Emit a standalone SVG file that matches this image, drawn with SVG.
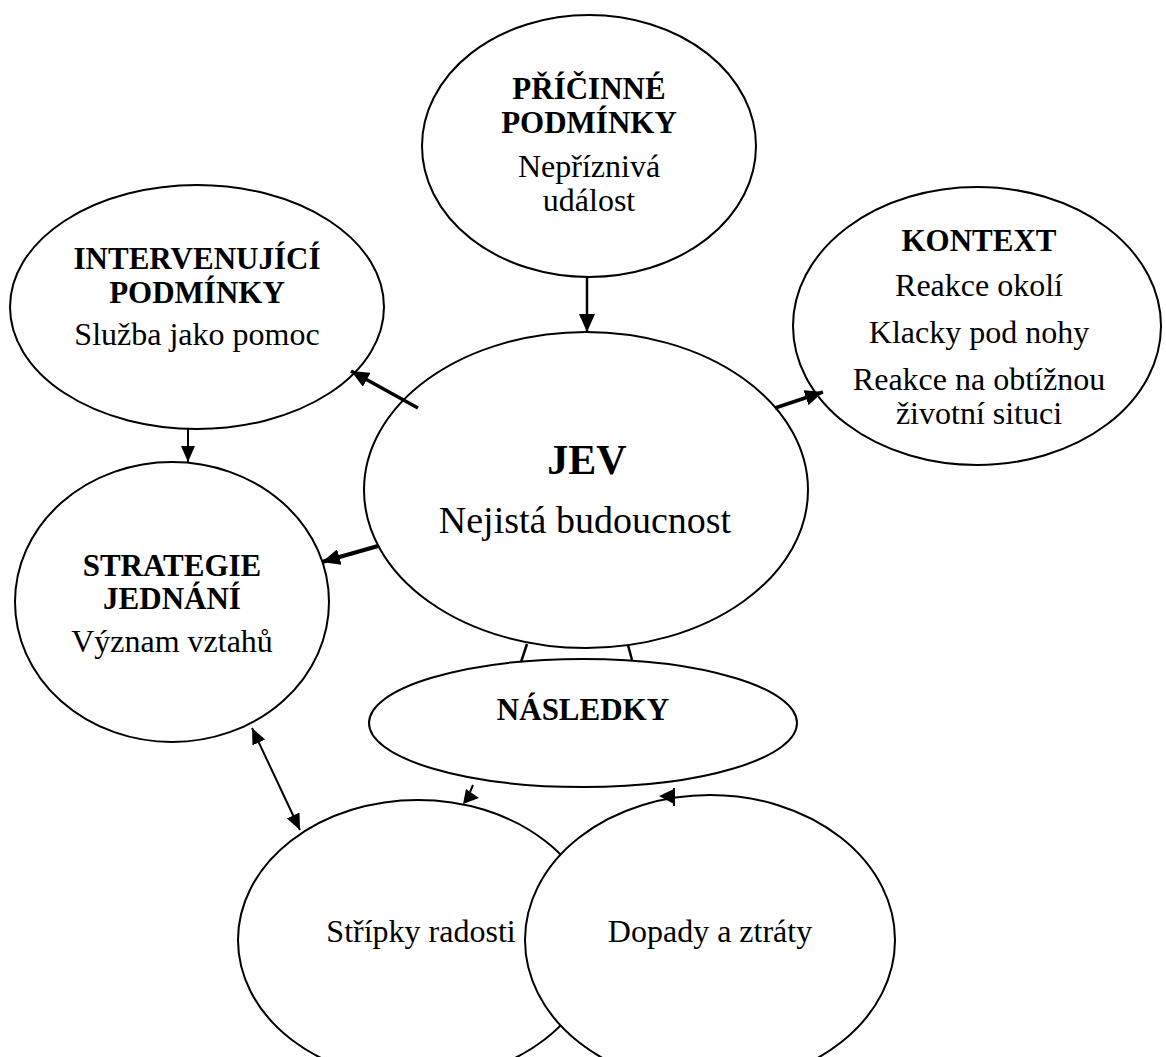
<svg xmlns="http://www.w3.org/2000/svg" width="1166" height="1057" viewBox="0 0 1166 1057">
<style>
.n{fill:#fff;stroke:#000;stroke-width:2}
.t{font-family:"Liberation Serif","Times New Roman",serif;font-size:32px;fill:#000;text-anchor:middle}
.b{font-weight:bold;font-size:31px}
.c{stroke:#000;fill:none}
</style>
<defs>
<marker id="ah" markerUnits="userSpaceOnUse" markerWidth="20" markerHeight="16" refX="18" refY="8" orient="auto">
<path d="M0,0 L18,8 L0,16 Z" fill="#000"/>
</marker>
<marker id="ahs" markerUnits="userSpaceOnUse" markerWidth="18" markerHeight="16" refX="16" refY="8" orient="auto-start-reverse">
<path d="M0,1 L16,8 L0,15 Z" fill="#000"/>
</marker>
</defs>
<rect width="1166" height="1057" fill="#fff"/>
<g id="strategie">
<ellipse class="n" cx="172" cy="602" rx="157" ry="140"/>
<text class="t b" x="172" y="576">STRATEGIE</text>
<text class="t b" x="172" y="609">JEDNÁNÍ</text>
<text class="t" x="172" y="652">Význam vztahů</text>
</g>
<g id="intervenujici">
<ellipse class="n" cx="197" cy="307" rx="187" ry="122"/>
<text class="t b" x="197" y="269">INTERVENUJÍCÍ</text>
<text class="t b" x="197" y="303">PODMÍNKY</text>
<text class="t" x="197" y="345">Služba jako pomoc</text>
</g>
<g id="pricinne">
<ellipse class="n" cx="589" cy="146" rx="167" ry="131"/>
<text class="t b" x="589" y="99">PŘÍČINNÉ</text>
<text class="t b" x="589" y="133">PODMÍNKY</text>
<text class="t" x="589" y="177">Nepříznivá</text>
<text class="t" x="589" y="211">událost</text>
</g>
<g id="kontext">
<ellipse class="n" cx="977" cy="326" rx="184" ry="139"/>
<text class="t b" x="979" y="251">KONTEXT</text>
<text class="t" x="979" y="296">Reakce okolí</text>
<text class="t" x="979" y="343">Klacky pod nohy</text>
<text class="t" x="979" y="390">Reakce na obtížnou</text>
<text class="t" x="979" y="424">životní situci</text>
</g>
<g id="jev">
<ellipse class="n" cx="586" cy="490" rx="222" ry="158"/>
<text class="t b" x="587" y="474" style="font-size:42px">JEV</text>
<text class="t" x="585" y="533" style="font-size:38px">Nejistá budoucnost</text>
</g>
<g id="nasledky">
<ellipse class="n" cx="583" cy="723" rx="214" ry="64"/>
<text class="t b" x="583" y="720">NÁSLEDKY</text>
</g>
<g id="stripky">
<ellipse class="n" cx="418" cy="940" rx="180" ry="140"/>
<text class="t" x="421" y="942">Střípky radosti</text>
</g>
<g id="dopady">
<ellipse class="n" cx="710" cy="940" rx="185" ry="145"/>
<text class="t" x="710" y="942">Dopady a ztráty</text>
</g>
<g id="connectors">
<line class="c" stroke-width="2.5" x1="587" y1="277" x2="587" y2="332" marker-end="url(#ah)"/>
<line class="c" stroke-width="3.5" x1="418" y1="408" x2="351" y2="371" marker-end="url(#ah)"/>
<line class="c" stroke-width="3.5" x1="775" y1="408" x2="823" y2="392" marker-end="url(#ah)"/>
<line class="c" stroke-width="4" x1="378" y1="546" x2="322" y2="562" marker-end="url(#ah)"/>
<line class="c" stroke-width="2" x1="188" y1="428" x2="188" y2="462" marker-end="url(#ahs)"/>
<line class="c" stroke-width="2" x1="252" y1="728" x2="300" y2="830" marker-start="url(#ahs)" marker-end="url(#ahs)"/>
<line class="c" stroke-width="2.5" x1="527" y1="644" x2="521" y2="662"/>
<line class="c" stroke-width="2.5" x1="628" y1="645" x2="632" y2="660"/>
<line class="c" stroke-width="2" x1="473" y1="785" x2="470" y2="792"/>
<polygon points="466,789 479,798 463,804" fill="#000"/>
<line class="c" stroke-width="2" x1="674" y1="788" x2="674" y2="806"/>
<polygon points="659,796 674,789 674,804" fill="#000"/>
</g>
</svg>
